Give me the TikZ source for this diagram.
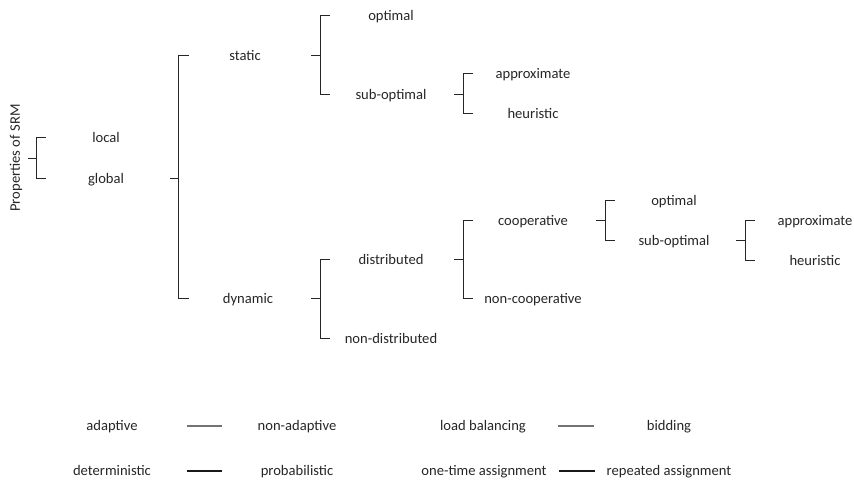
\documentclass[tikz,border=0pt]{standalone}
\usepackage{fontspec}
\setmainfont{Carlito}
\usetikzlibrary{calc}
\begin{document}
\begin{tikzpicture}[x=1pt,y=-1pt,
  lbl/.style={anchor=base,inner sep=0pt,text=black!85,font=\fontsize{14.6}{17}\selectfont},
  brk/.style={draw=black!85,line width=1pt},
  pair/.style={line width=1.1pt},
]
\useasboundingbox (0,0) rectangle (854,480);

% root label
\node[lbl,rotate=90,anchor=center] (root) at (16,158) {Properties of SRM};

% level 1
\node[lbl] (local)  at (106,142) {local};
\node[lbl] (global) at (106,183) {global};

% level 2
\node[lbl] (static)  at (245,60)  {static};
\node[lbl] (dynamic) at (248,303) {dynamic};

% static branch
\node[lbl] (sopt)  at (391,20)  {optimal};
\node[lbl] (ssub)  at (391,99)  {sub-optimal};
\node[lbl] (sappr) at (533,78)  {approximate};
\node[lbl] (sheur) at (533,118) {heuristic};

% dynamic branch
\node[lbl] (dist)   at (391,264) {distributed};
\node[lbl] (ndist)  at (391,343) {non-distributed};
\node[lbl] (coop)   at (533,225) {cooperative};
\node[lbl] (ncoop)  at (533,303) {non-cooperative};
\node[lbl] (copt)   at (674,205) {optimal};
\node[lbl] (csub)   at (674,245) {sub-optimal};
\node[lbl] (cappr)  at (815,225) {approximate};
\node[lbl] (cheur)  at (815,265) {heuristic};

% bracket spines: stub start (s) and spine (v)
\coordinate (s1) at (28,158);  \coordinate (v1) at (36,158);
\coordinate (s2) at (170,178); \coordinate (v2) at (178,178);
\coordinate (s3) at (311,55);  \coordinate (v3) at (320,55);
\coordinate (s4) at (454,94);  \coordinate (v4) at (463,94);
\coordinate (s5) at (311,298); \coordinate (v5) at (320,298);
\coordinate (s6) at (454,259); \coordinate (v6) at (463,259);
\coordinate (s7) at (596,220); \coordinate (v7) at (605,220);
\coordinate (s8) at (736,240); \coordinate (v8) at (745,240);

% brackets: stub, then spine between the children's rows with short ticks
\draw[brk] (s1) -- (v1);
\draw[brk] ($(v1|-local.base)+(10,-5)$) -- ($(v1|-local.base)+(0,-5)$) -- ($(v1|-global.base)+(0,-5)$) -- ++(10,0);
\draw[brk] (s2) -- (v2);
\draw[brk] ($(v2|-static.base)+(11,-5)$) -- ($(v2|-static.base)+(0,-5)$) -- ($(v2|-dynamic.base)+(0,-5)$) -- ++(11,0);
\draw[brk] (s3) -- (v3);
\draw[brk] ($(v3|-sopt.base)+(10,-5)$) -- ($(v3|-sopt.base)+(0,-5)$) -- ($(v3|-ssub.base)+(0,-5)$) -- ++(10,0);
\draw[brk] (s4) -- (v4);
\draw[brk] ($(v4|-sappr.base)+(10,-5)$) -- ($(v4|-sappr.base)+(0,-5)$) -- ($(v4|-sheur.base)+(0,-5)$) -- ++(10,0);
\draw[brk] (s5) -- (v5);
\draw[brk] ($(v5|-dist.base)+(10,-5)$) -- ($(v5|-dist.base)+(0,-5)$) -- ($(v5|-ndist.base)+(0,-5)$) -- ++(10,0);
\draw[brk] (s6) -- (v6);
\draw[brk] ($(v6|-coop.base)+(10,-5)$) -- ($(v6|-coop.base)+(0,-5)$) -- ($(v6|-ncoop.base)+(0,-5)$) -- ++(10,0);
\draw[brk] (s7) -- (v7);
\draw[brk] ($(v7|-copt.base)+(10,-5)$) -- ($(v7|-copt.base)+(0,-5)$) -- ($(v7|-csub.base)+(0,-5)$) -- ++(10,0);
\draw[brk] (s8) -- (v8);
\draw[brk] ($(v8|-cappr.base)+(10,-5)$) -- ($(v8|-cappr.base)+(0,-5)$) -- ($(v8|-cheur.base)+(0,-5)$) -- ++(10,0);

% opposing property pairs
\node[lbl] (adap)  at (112,430) {adaptive};
\node[lbl] (nadap) at (297,430) {non-adaptive};
\node[lbl] (lb)    at (483,430) {load balancing};
\node[lbl] (bid)   at (669,430) {bidding};
\node[lbl] (det)   at (112,475) {deterministic};
\node[lbl] (prob)  at (297,475) {probabilistic};
\node[lbl] (onet)  at (484,475) {one-time assignment};
\node[lbl] (rep)   at (669,475) {repeated assignment};

\coordinate (a1) at (187,426); \coordinate (a2) at (222,426);
\coordinate (b1) at (558,426); \coordinate (b2) at (594,426);
\coordinate (c1) at (187,471); \coordinate (c2) at (222,471);
\coordinate (d1) at (559,471); \coordinate (d2) at (595,471);
\draw[pair,draw=black!55] (a1) -- (a2);
\draw[pair,draw=black!55] (b1) -- (b2);
\draw[pair,draw=black!90] (c1) -- (c2);
\draw[pair,draw=black!90] (d1) -- (d2);
\end{tikzpicture}
\end{document}
